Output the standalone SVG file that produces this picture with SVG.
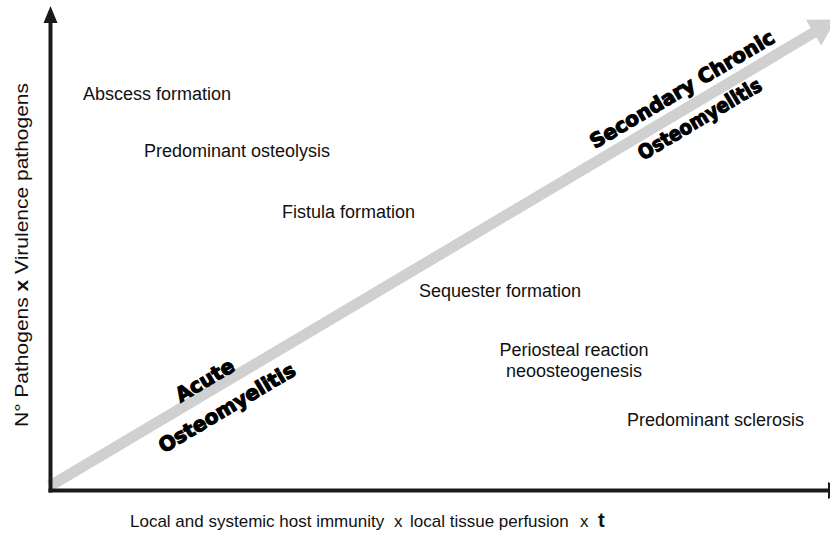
<svg xmlns="http://www.w3.org/2000/svg" width="830" height="538" viewBox="0 0 830 538">
<style>
.lbl{font-family:"Liberation Sans",Arial,sans-serif;font-size:18px;fill:#111}
.ax{font-family:"Liberation Sans",Arial,sans-serif;font-size:17px;fill:#111}
.big{font-family:"DejaVu Sans",sans-serif;font-weight:bold;font-size:20px;fill:#000;stroke:#000;stroke-width:1.2;text-anchor:middle}
.axis{stroke:#1a1a1a;stroke-width:4;fill:none}
</style>
<rect width="830" height="538" fill="#fff"/>
<g id="connectors">
  <g id="trend-arrow" transform="translate(50,486) rotate(-30.7)">
    <line x1="0" y1="0" x2="890" y2="0" stroke="#d0d0d0" stroke-width="11"/>
    <polygon points="888,-15 914,0 888,15" fill="#d0d0d0"/>
  </g>
  <g id="y-axis">
    <line class="axis" x1="50.5" y1="20" x2="50.5" y2="492.5"/>
    <polygon points="50.5,6 43.5,23 57.5,23" fill="#1a1a1a"/>
  </g>
  <g id="x-axis">
    <line class="axis" x1="48.5" y1="490.5" x2="830" y2="490.5"/>
    <polygon points="828,482 828,499 846,490.5" fill="#1a1a1a"/>
  </g>
</g>
<g id="stage-labels" transform="translate(50,486) rotate(-30.7)">
  <g id="acute"><text class="big" x="187" y="-5">Acute</text><text class="big" x="192" y="30">Osteomyelitis</text></g>
  <g id="chronic"><text class="big" x="746" y="-11.5">Secondary Chronic</text><text class="big" x="746" y="23" textLength="140" lengthAdjust="spacingAndGlyphs">Osteomyelitis</text></g>
</g>
<g id="abscess"><text class="lbl" x="83" y="100">Abscess formation</text></g>
<g id="osteolysis"><text class="lbl" x="144" y="157">Predominant osteolysis</text></g>
<g id="fistula"><text class="lbl" x="282" y="218">Fistula formation</text></g>
<g id="sequester"><text class="lbl" x="419" y="297">Sequester formation</text></g>
<g id="periosteal"><text class="lbl" x="574" y="356" text-anchor="middle">Periosteal reaction</text><text class="lbl" x="574" y="377" text-anchor="middle">neoosteogenesis</text></g>
<g id="sclerosis"><text class="lbl" x="627" y="426">Predominant sclerosis</text></g>
<g id="x-label">
  <text class="ax" x="130" y="527">Local and systemic host immunity<tspan x="394">x</tspan><tspan x="410">local tissue perfusion</tspan><tspan x="580">x</tspan><tspan x="598" font-weight="bold" font-size="20">t</tspan></text>
</g>
<g id="y-label"><text class="lbl" font-size="19" transform="translate(28,427) rotate(-90)" x="0" y="0" textLength="344" lengthAdjust="spacingAndGlyphs">N° Pathogens <tspan font-weight="bold">x</tspan> Virulence pathogens</text></g>
</svg>
